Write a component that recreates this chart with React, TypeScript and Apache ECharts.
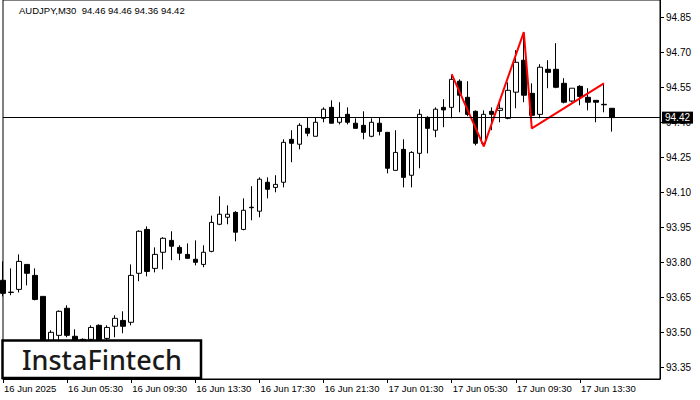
import React, { useEffect, useRef } from "react";
import * as echarts from "echarts";

// 30-minute bars from 16 Jun 01:30 to 17 Jun 15:30 (77 bars) + 6 empty slots
const opens = [93.723, 93.672, 93.684, 93.791, 93.744, 93.654, 93.423, 93.487, 93.603, 93.483, 93.47, 93.47, 93.53, 93.474, 93.526, 93.551, 93.543, 93.753, 93.941, 93.774, 93.843, 93.894, 93.864, 93.834, 93.813, 93.791, 93.847, 93.963, 93.993, 94.014, 93.941, 94.036, 94.019, 94.143, 94.121, 94.143, 94.327, 94.306, 94.374, 94.34, 94.417, 94.464, 94.4, 94.434, 94.396, 94.387, 94.34, 94.396, 94.357, 94.194, 94.284, 94.173, 94.267, 94.421, 94.366, 94.464, 94.464, 94.576, 94.507, 94.447, 94.31, 94.447, 94.451, 94.417, 94.529, 94.666, 94.524, 94.434, 94.627, 94.627, 94.567, 94.491, 94.554, 94.507, 94.494, 94.477, 94.46];
const closes = [93.667, 93.671, 93.804, 93.753, 93.641, 93.414, 93.5, 93.59, 93.487, 93.453, 93.466, 93.521, 93.457, 93.521, 93.56, 93.526, 93.744, 93.933, 93.761, 93.834, 93.903, 93.869, 93.839, 93.817, 93.8, 93.843, 93.971, 94.006, 94.006, 93.929, 94.023, 94.034, 94.156, 94.113, 94.134, 94.314, 94.31, 94.387, 94.353, 94.4, 94.456, 94.396, 94.421, 94.4, 94.374, 94.357, 94.4, 94.361, 94.203, 94.271, 94.164, 94.271, 94.434, 94.374, 94.456, 94.453, 94.584, 94.516, 94.434, 94.31, 94.434, 94.434, 94.46, 94.537, 94.657, 94.516, 94.43, 94.636, 94.614, 94.55, 94.486, 94.546, 94.511, 94.486, 94.486, 94.475, 94.42];
const lows = [93.654, 93.659, 93.671, 93.701, 93.637, 93.397, 93.4, 93.457, 93.479, 93.44, 93.444, 93.457, 93.444, 93.461, 93.479, 93.496, 93.53, 93.719, 93.74, 93.757, 93.77, 93.809, 93.809, 93.817, 93.787, 93.779, 93.843, 93.959, 93.963, 93.89, 93.937, 93.98, 93.993, 94.074, 94.1, 94.121, 94.229, 94.284, 94.34, 94.34, 94.4, 94.396, 94.391, 94.391, 94.374, 94.327, 94.336, 94.344, 94.181, 94.194, 94.121, 94.121, 94.203, 94.267, 94.336, 94.379, 94.417, 94.443, 94.426, 94.301, 94.297, 94.366, 94.4, 94.413, 94.46, 94.486, 94.421, 94.417, 94.546, 94.546, 94.481, 94.486, 94.473, 94.451, 94.4, 94.443, 94.36];
const highs = [93.804, 93.774, 93.834, 93.791, 93.774, 93.654, 93.509, 93.594, 93.616, 93.513, 93.474, 93.53, 93.534, 93.53, 93.573, 93.59, 93.791, 93.937, 93.954, 93.864, 93.907, 93.933, 93.873, 93.881, 93.894, 93.873, 94.0, 94.083, 94.044, 94.019, 94.074, 94.126, 94.164, 94.164, 94.173, 94.327, 94.366, 94.396, 94.421, 94.421, 94.464, 94.494, 94.486, 94.464, 94.417, 94.447, 94.417, 94.421, 94.357, 94.366, 94.327, 94.276, 94.456, 94.426, 94.464, 94.499, 94.601, 94.584, 94.576, 94.451, 94.451, 94.464, 94.494, 94.571, 94.709, 94.773, 94.567, 94.649, 94.666, 94.739, 94.589, 94.546, 94.559, 94.546, 94.494, 94.567, 94.46];

const emptySlots = 6;

// pattern (red) line vertices: bar index and price
const patternIdx = [56, 60, 65, 66, 75];
const patternPrice = [94.606, 94.297, 94.786, 94.374, 94.567];

const currentPrice = 94.42;

const yTicks = [93.35, 93.5, 93.65, 93.8, 93.95, 94.1, 94.25, 94.4, 94.55, 94.7, 94.85];
const xTickLabels = ["16 Jun 2025", "16 Jun 05:30", "16 Jun 09:30", "16 Jun 13:30", "16 Jun 17:30", "16 Jun 21:30", "17 Jun 01:30", "17 Jun 05:30", "17 Jun 09:30", "17 Jun 13:30"];

const titleText = "AUDJPY,M30  94.46 94.46 94.36 94.42";

function pad(n: number) {
  return n < 10 ? "0" + n : "" + n;
}

export default function App() {
  const ref = useRef<HTMLDivElement>(null);
  useEffect(() => {
    if (!ref.current) return;
    const chart = echarts.init(ref.current, undefined, { renderer: "svg" });
    const total = opens.length + emptySlots;
    const categories: string[] = [];
    for (let i = 0; i < total; i++) {
      const t = 90 + 30 * i;
      const day = 16 + Math.floor(t / 1440);
      const hh = Math.floor((t % 1440) / 60);
      const mm = t % 60;
      categories.push(`${day} Jun ${pad(hh)}:${pad(mm)}`);
    }
    const candleData: any[] = [];
    for (let i = 0; i < total; i++) {
      if (i < opens.length) candleData.push([opens[i], closes[i], lows[i], highs[i]]);
      else candleData.push(["-", "-", "-", "-"]);
    }
    const patternData: any[] = [];
    for (let i = 0; i < total; i++) patternData.push(null);
    patternIdx.forEach((idx, k) => {
      patternData[idx] = patternPrice[k];
    });
    const font = "Liberation Sans";
    const showTick = (idx: number) => idx % 8 === 0 && idx < opens.length;

    chart.setOption({
      animation: false,
      backgroundColor: "#ffffff",
      grid: {
        left: 3,
        right: 40,
        top: 0,
        bottom: 21,
        show: true,
        borderColor: "#000",
        borderWidth: 1,
        backgroundColor: "transparent",
      },
      xAxis: {
        type: "category",
        data: categories,
        boundaryGap: false,
        axisLine: { show: true, lineStyle: { color: "#000", width: 1 } },
        axisTick: {
          show: true,
          interval: (idx: number) => showTick(idx),
          length: 4,
          lineStyle: { color: "#000" },
        },
        axisLabel: {
          interval: (idx: number) => showTick(idx),
          formatter: (_v: string, idx: number) => xTickLabels[idx / 8] || "",
          align: "left",
          margin: 4,
          padding: [0, 0, 0, 1],
          color: "#000",
          fontSize: 9.5,
          fontFamily: font,
        },
        splitLine: { show: false },
      },
      yAxis: {
        type: "value",
        position: "right",
        min: 93.3,
        max: 94.924,
        scale: true,
        axisLine: { show: true, lineStyle: { color: "#000" } },
        axisTick: {
          show: true,
          length: 4,
          customValues: yTicks,
          lineStyle: { color: "#000" },
        },
        axisLabel: {
          customValues: yTicks,
          formatter: (v: number) => v.toFixed(2),
          margin: 6,
          color: "#000",
          fontSize: 10,
          fontFamily: font,
        },
        splitLine: { show: false },
      },
      series: [
        {
          type: "candlestick",
          data: candleData,
          barWidth: 5,
          clip: true,
          itemStyle: {
            color: "#ffffff",
            color0: "#000000",
            borderColor: "#000000",
            borderColor0: "#000000",
            borderWidth: 1,
          },
          markLine: {
            silent: true,
            symbol: "none",
            animation: false,
            data: [{ yAxis: currentPrice }],
            lineStyle: { color: "#000", width: 1, type: "solid" },
            label: {
              show: true,
              position: "end",
              formatter: currentPrice.toFixed(2),
              backgroundColor: "#000",
              color: "#fff",
              padding: [1, 3, 1, 3],
              distance: 2,
              fontSize: 10,
              fontFamily: font,
            },
          },
          z: 2,
        },
        {
          type: "line",
          data: patternData,
          connectNulls: true,
          showSymbol: false,
          symbol: "none",
          lineStyle: { color: "#ff0000", width: 2 },
          z: 3,
        },
      ],
      graphic: [
        {
          type: "text",
          left: 19,
          top: 5,
          z: 100,
          style: { text: titleText, fill: "#000", fontSize: 9.5, fontFamily: font },
        },
        {
          type: "rect",
          z: 100,
          shape: { x: 2.5, y: 340.5, width: 198.5, height: 37.5 },
          style: { fill: "#fff", stroke: "#000", lineWidth: 2.5 },
        },
        {
          type: "text",
          z: 101,
          x: 22,
          y: 359,
          style: {
            text: "InstaFintech",
            fill: "#1a1a1a",
            fontSize: 27,
            fontWeight: 500,
            fontFamily: "Noto Sans",
            verticalAlign: "middle",
          },
        },
      ],
    });
    return () => chart.dispose();
  }, []);
  return <div ref={ref} style={{ position: "fixed", left: 0, top: 0, width: 700, height: 400 }} />;
}
